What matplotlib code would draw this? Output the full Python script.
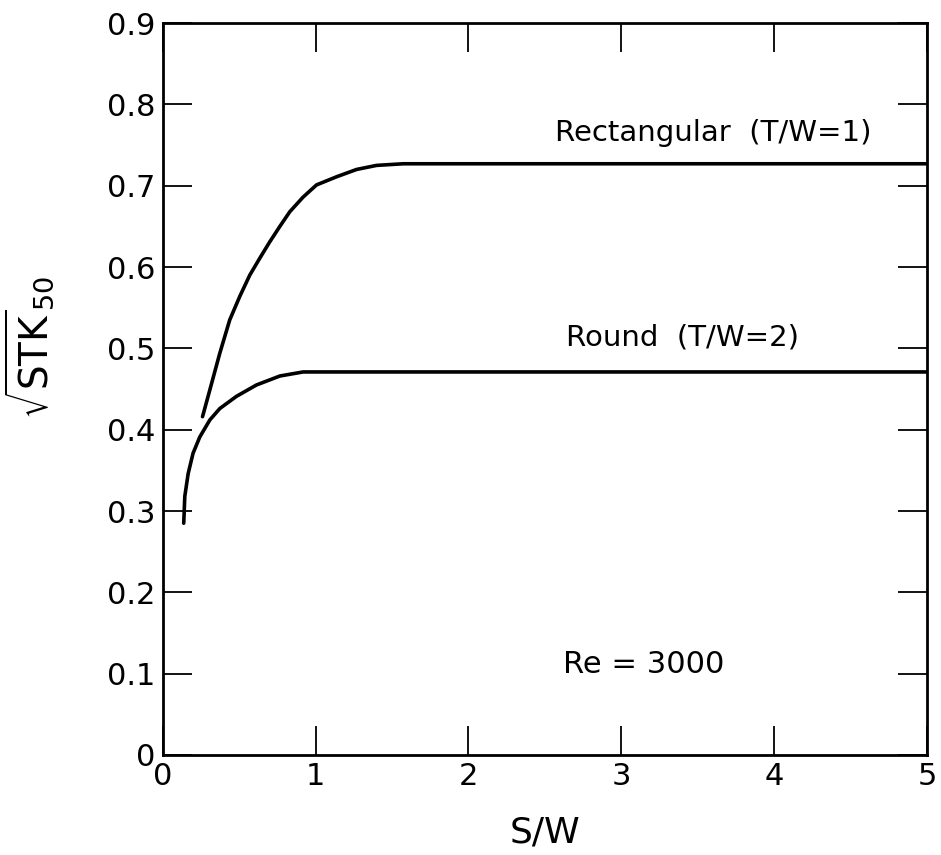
import matplotlib.pyplot as plt

# curves (S/W, sqrt(STK50))
rect_sw = [0.26, 0.308, 0.373, 0.438, 0.504, 0.569, 0.635, 0.70, 0.766, 0.831,
           0.918, 1.006, 1.137, 1.268, 1.399, 1.573, 5.0]
rect_stk = [0.416, 0.449, 0.494, 0.535, 0.564, 0.590, 0.611, 0.631, 0.650, 0.668,
            0.686, 0.701, 0.711, 0.720, 0.725, 0.727, 0.727]

round_sw = [0.137, 0.144, 0.166, 0.198, 0.242, 0.308, 0.373, 0.482, 0.613, 0.766,
            0.918, 5.0]
round_stk = [0.285, 0.318, 0.346, 0.371, 0.391, 0.412, 0.426, 0.441, 0.455, 0.466,
             0.471, 0.471]

xticks = [0, 1, 2, 3, 4, 5]
yticks = [0, 0.1, 0.2, 0.3, 0.4, 0.5, 0.6, 0.7, 0.8, 0.9]
ytick_labels = ["0", "0.1", "0.2", "0.3", "0.4", "0.5", "0.6", "0.7", "0.8", "0.9"]

plt.rcParams['font.family'] = ['DejaVu Sans']
plt.rcParams['mathtext.fontset'] = 'dejavusans'

fig = plt.figure(figsize=(9.41, 8.55), dpi=100)
ax = fig.add_axes([0.173, 0.117, 0.812, 0.856])

ax.plot(rect_sw, rect_stk, color='black', lw=2.6, solid_capstyle='round')
ax.plot(round_sw, round_stk, color='black', lw=2.6, solid_capstyle='round')

ax.text(3.6, 0.765, "Rectangular  (T/W=1)", fontsize=21, ha='center', va='center')
ax.text(3.4, 0.513, "Round  (T/W=2)", fontsize=21, ha='center', va='center')
ax.text(3.15, 0.111, "Re = 3000", fontsize=22, ha='center', va='center')

ax.set_xlim(0, 5)
ax.set_ylim(0, 0.9)
ax.set_xticks(xticks)
ax.set_yticks(yticks)
ax.set_yticklabels(ytick_labels)
ax.tick_params(direction='in', length=21, width=1.3, top=True, right=True,
               labelsize=22, pad=5)

for s in ax.spines.values():
    s.set_linewidth(2)

ax.set_xlabel("S/W", fontsize=26, labelpad=18)
ax.set_ylabel(r"$\sqrt{\mathrm{STK}}_{50}$", fontsize=28)
ax.yaxis.set_label_coords(-0.14, 0.557)

fig.savefig("out.png", dpi=100)
